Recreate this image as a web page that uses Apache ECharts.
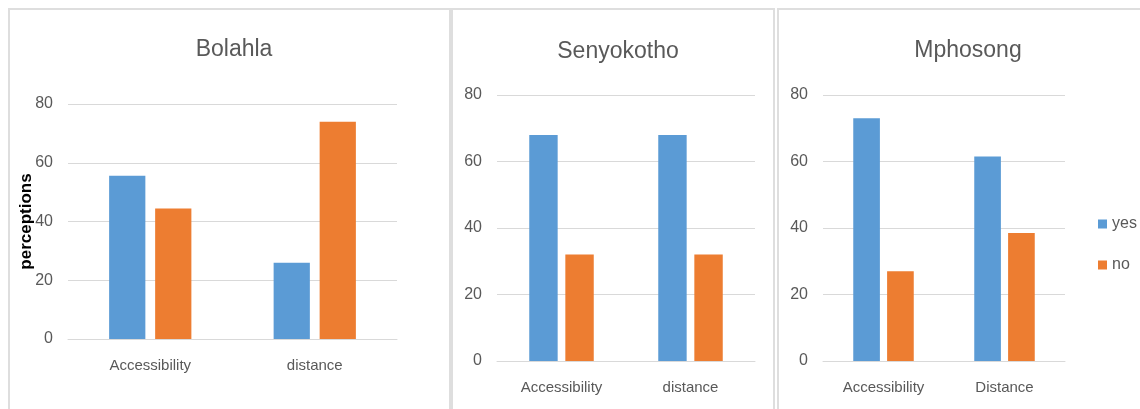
<!DOCTYPE html>
<html>
<head>
<meta charset="utf-8">
<title>Perceptions by village</title>
<script src="https://cdn.jsdelivr.net/npm/echarts@6/dist/echarts.min.js"></script>
<style>
  html, body { margin: 0; padding: 0; background: #ffffff; }
  #chart { width: 1140px; height: 409px; }
</style>
</head>
<body>
<div id="chart"></div>
<script>
// Village panels and their answers (% of respondents)
const villages = ['Bolahla', 'Senyokotho', 'Mphosong'];
const categoriesBolahla = ['Accessibility', 'distance'];
const categoriesSenyokotho = ['Accessibility', 'distance'];
const categoriesMphosong = ['Accessibility', 'Distance'];
const yesBolahla = [55.6, 26];
const noBolahla = [44.4, 74];
const yesSenyokotho = [68, 68];
const noSenyokotho = [32, 32];
const yesMphosong = [73, 61.5];
const noMphosong = [27, 38.5];
const seriesNames = ['yes', 'no'];
const yAxisTitle = 'perceptions';

const FONT = '"Liberation Sans", Arial, sans-serif';
const TEXT = '#595959';
const GRIDLINE = '#d9d9d9';
const BLUE = '#5B9BD5';
const ORANGE = '#ED7D31';

const panels = [
  { title: villages[0], cats: categoriesBolahla, yes: yesBolahla, no: noBolahla,
    grid: { left: 68, top: 104, width: 329, height: 235 }, titleX: 229, titleTop: 33, yName: yAxisTitle },
  { title: villages[1], cats: categoriesSenyokotho, yes: yesSenyokotho, no: noSenyokotho,
    grid: { left: 497, top: 95, width: 258, height: 266 }, titleX: 613, titleTop: 35, yName: '' },
  { title: villages[2], cats: categoriesMphosong, yes: yesMphosong, no: noMphosong,
    grid: { left: 823, top: 95, width: 242, height: 266 }, titleX: 963, titleTop: 34, yName: '' }
];

const option = {
  backgroundColor: '#ffffff',
  animation: false,
  title: panels.map(p => ({
    text: p.title,
    left: p.titleX,
    top: p.titleTop,
    textAlign: 'center',
    textStyle: { fontFamily: FONT, fontSize: 23, fontWeight: 'normal', color: TEXT }
  })),
  legend: {
    data: seriesNames,
    orient: 'vertical',
    left: 1093,
    top: 211,
    icon: 'rect',
    itemWidth: 9,
    itemHeight: 9,
    itemGap: 25,
    textStyle: { fontFamily: FONT, fontSize: 16, color: TEXT }
  },
  graphic: [
    { type: 'rect', shape: { x: 9, y: 9, width: 441, height: 430 },
      style: { fill: 'none', stroke: '#dedede', lineWidth: 2 }, silent: true },
    { type: 'rect', shape: { x: 452, y: 9, width: 322, height: 430 },
      style: { fill: 'none', stroke: '#dedede', lineWidth: 2 }, silent: true },
    { type: 'rect', shape: { x: 778, y: 9, width: 400, height: 430 },
      style: { fill: 'none', stroke: '#dedede', lineWidth: 2 }, silent: true }
  ],
  grid: panels.map(p => Object.assign({ containLabel: false }, p.grid)),
  xAxis: panels.map((p, i) => ({
    type: 'category',
    gridIndex: i,
    data: p.cats,
    axisTick: { show: false },
    axisLine: { show: true, lineStyle: { color: GRIDLINE, width: 1 } },
    axisLabel: { fontFamily: FONT, fontSize: 15, color: TEXT, margin: 19 }
  })),
  yAxis: panels.map((p, i) => ({
    type: 'value',
    gridIndex: i,
    min: 0,
    max: 80,
    interval: 20,
    name: p.yName,
    nameLocation: 'middle',
    nameRotate: 90,
    nameGap: 33,
    nameMoveOverlap: false,
    nameTextStyle: { fontFamily: FONT, fontSize: 17, fontWeight: 'bold', color: '#000000' },
    axisLine: { show: false },
    axisTick: { show: false },
    splitLine: { lineStyle: { color: GRIDLINE, width: 1 } },
    axisLabel: { fontFamily: FONT, fontSize: 16, color: TEXT, margin: 15 }
  })),
  series: panels.flatMap((p, i) => [
    { name: seriesNames[0], type: 'bar', xAxisIndex: i, yAxisIndex: i, data: p.yes,
      itemStyle: { color: BLUE }, barGap: '27%', barCategoryGap: '50%' },
    { name: seriesNames[1], type: 'bar', xAxisIndex: i, yAxisIndex: i, data: p.no,
      itemStyle: { color: ORANGE }, barGap: '27%', barCategoryGap: '50%' }
  ])
};

const chart = echarts.init(document.getElementById('chart'), null, { renderer: 'canvas' });
chart.setOption(option);
</script>
</body>
</html>
